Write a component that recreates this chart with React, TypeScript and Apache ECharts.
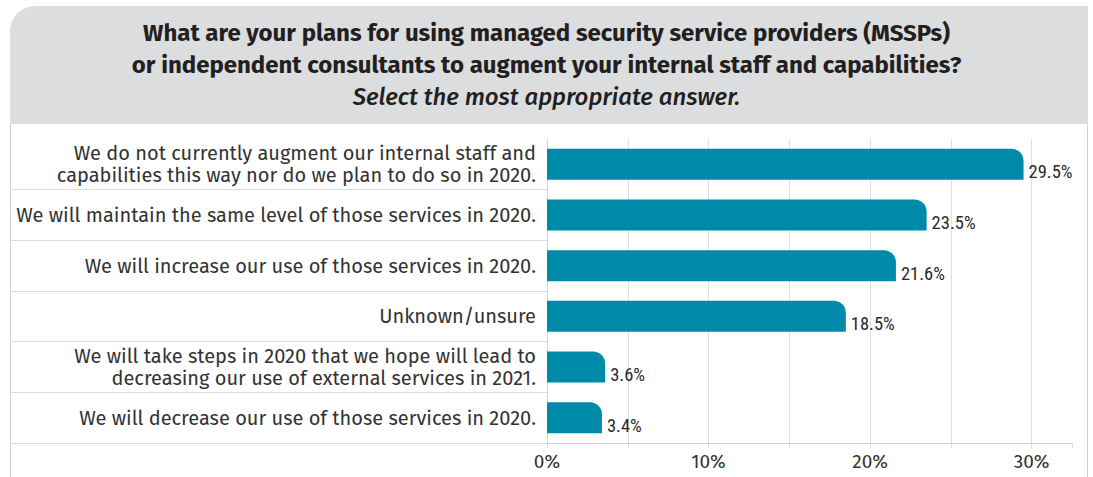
import React, { useEffect, useRef } from "react";
import * as echarts from "echarts";

const categories: string[] = [
  "We do not currently augment our internal staff and\ncapabilities this way nor do we plan to do so in 2020.",
  "We will maintain the same level of those services in 2020.",
  "We will increase our use of those services in 2020.",
  "Unknown/unsure",
  "We will take steps in 2020 that we hope will lead to\ndecreasing our use of external services in 2021.",
  "We will decrease our use of those services in 2020.",
];
const values: number[] = [29.5, 23.5, 21.6, 18.5, 3.6, 3.4];
const titleLines: string[] = [
  "What are your plans for using managed security service providers (MSSPs)",
  "or independent consultants to augment your internal staff and capabilities?",
];
const subtitle = "Select the most appropriate answer.";
const xTickLabels: Record<number, string> = { 0: "0%", 10: "10%", 20: "20%", 30: "30%" };

const SANS = "'Fira Sans', 'Noto Sans', 'Open Sans', sans-serif";
const NARROW =
  "'Liberation Sans Narrow', 'Roboto Condensed', 'Fira Sans Condensed', 'DejaVu Sans Condensed', sans-serif";

export default function App() {
  const ref = useRef<HTMLDivElement>(null);
  useEffect(() => {
    if (!ref.current) return;
    const chart = echarts.init(ref.current, null, { renderer: "svg" });
    chart.setOption({
      animation: false,
      backgroundColor: "#ffffff",
      graphic: [
        {
          type: "rect",
          z: -10,
          shape: { x: 10, y: 6, width: 1078, height: 118, r: [25, 0, 0, 0] },
          style: { fill: "#dcdddf" },
        },
        {
          type: "line",
          z: -10,
          shape: { x1: 10.5, y1: 124, x2: 10.5, y2: 477 },
          style: { stroke: "#d2d2d2", lineWidth: 1 },
        },
        {
          type: "line",
          z: -10,
          shape: { x1: 1087.5, y1: 124, x2: 1087.5, y2: 477 },
          style: { stroke: "#d2d2d2", lineWidth: 1 },
        },
      ],
      title: {
        left: "center",
        top: 17,
        padding: 0,
        text:
          titleLines.map((l) => `{a|${l}}`).join("\n") + `\n{b|${subtitle}}`,
        textStyle: {
          rich: {
            a: {
              fontFamily: SANS,
              fontWeight: "bold",
              fontSize: 24,
              lineHeight: 32,
              color: "#231f20",
            },
            b: {
              fontFamily: SANS,
              fontStyle: "italic",
              fontWeight: 500,
              fontSize: 24,
              lineHeight: 32,
              color: "#231f20",
            },
          },
        },
      },
      grid: { left: 547, right: 21, top: 139, bottom: 34, containLabel: false },
      xAxis: {
        type: "value",
        min: 0,
        max: 32.5,
        interval: 5,
        axisLine: { show: true, lineStyle: { color: "#d0d0d0", width: 1 } },
        axisTick: { show: true, length: 5, lineStyle: { color: "#d9d9d9" } },
        splitLine: { show: true, showMaxLine: false, lineStyle: { color: "#e0e0e0", width: 1 } },
        axisLabel: {
          margin: 9,
          fontFamily: SANS,
          fontSize: 19,
          color: "#333333",
          formatter: (v: number) => xTickLabels[v] ?? "",
        },
      },
      yAxis: {
        type: "category",
        inverse: true,
        data: categories,
        axisLine: { show: true, lineStyle: { color: "#d6d6d6", width: 1 } },
        axisTick: {
          show: true,
          length: 537,
          interval: (i: number) => i !== 0,
          lineStyle: { color: "#dcdcdc", width: 1 },
        },
        axisLabel: {
          margin: 11,
          fontFamily: SANS,
          fontSize: 20,
          lineHeight: 22,
          color: "#333333",
          align: "right",
        },
      },
      series: [
        {
          type: "bar",
          data: values,
          barWidth: 31,
          itemStyle: {
            color: "#008aa9",
            borderRadius: [0, 12, 0, 0],
          },
          label: {
            show: true,
            position: "right",
            distance: 5,
            offset: [0, 8],
            formatter: (p: any) => `${p.value}%`,
            fontFamily: NARROW,
            fontWeight: "normal",
            fontSize: 18.5,
            color: "#2a2a2a",
          },
        },
      ],
    });
    return () => chart.dispose();
  }, []);
  return (
    <div
      ref={ref}
      style={{ position: "fixed", left: 0, top: 0, width: 1093, height: 477 }}
    />
  );
}
